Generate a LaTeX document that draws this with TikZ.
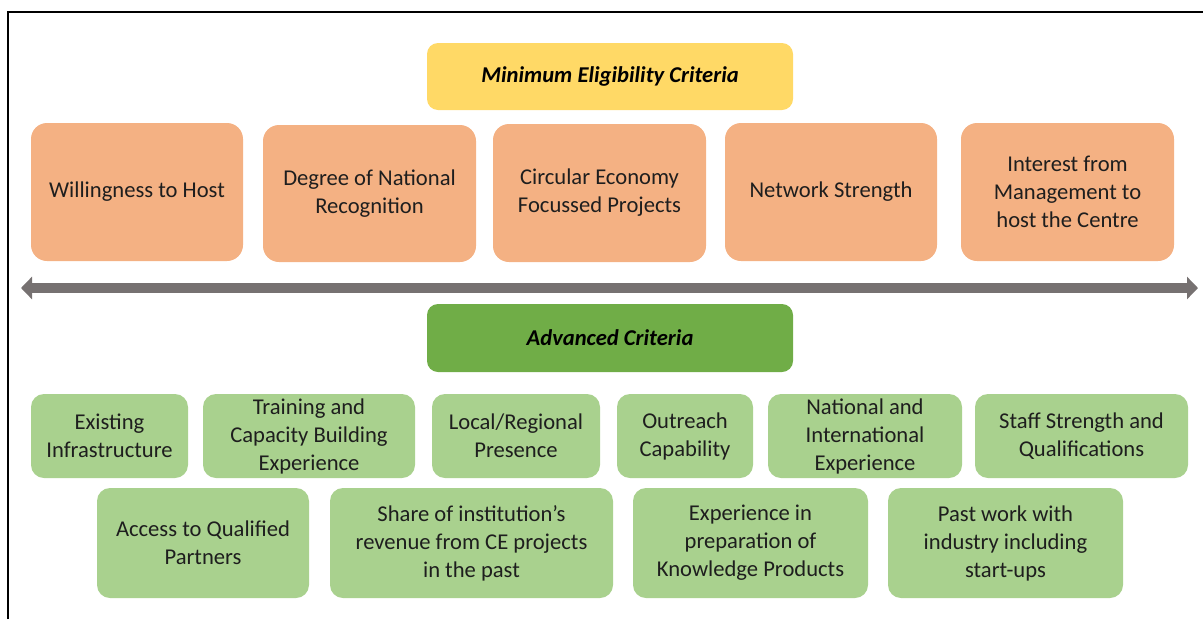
\documentclass[tikz,border=0pt]{standalone}
\usepackage{fontspec}
\setmainfont{Carlito}
\usetikzlibrary{arrows.meta}
\definecolor{orangebox}{HTML}{F4B183}
\definecolor{yellowbox}{HTML}{FFD966}
\definecolor{greenhead}{HTML}{70AD47}
\definecolor{greenbox}{HTML}{A9D18E}
\definecolor{arrowgray}{HTML}{767171}
\definecolor{txt}{HTML}{1E1E1E}
\tikzset{
  base/.style={rectangle, align=center, inner sep=0pt, text=txt,
    font=\fontsize{22.6}{28}\selectfont},
  obox/.style={base, fill=orangebox, rounded corners=16pt},
  gbox/.style={base, fill=greenbox, rounded corners=13pt},
  headbox/.style={base, rounded corners=11pt, text=black,
    font=\fontsize{22.6}{28}\selectfont\bfseries\itshape},
  bigarrow/.style={draw=arrowgray, line width=10pt,
    {Triangle[width=22pt,length=11pt]}-{Triangle[width=22pt,length=11pt]}},
  frame/.style={draw=black, line width=2pt}
}
\begin{document}
\begin{tikzpicture}[x=1pt,y=-1pt]
\useasboundingbox (0,0) rectangle (1203,619);
\draw[frame] (8,619) -- (8,12) -- (1203,12);
% header
\node[headbox, fill=yellowbox, minimum width=366pt, minimum height=67pt] (mec) at (610,76.5) {Minimum Eligibility Criteria};
% orange row
\node[obox, minimum width=212pt, minimum height=138pt] (o1) at (137,192) {Willingness to Host};
\node[obox, minimum width=213pt, minimum height=137pt] (o2) at (369.5,193.5) {Degree of National\\Recognition};
\node[obox, minimum width=213pt, minimum height=138pt] (o3) at (599.5,193) {Circular Economy\\Focussed Projects};
\node[obox, minimum width=212pt, minimum height=138pt] (o4) at (831,192) {Network Strength};
\node[obox, minimum width=213pt, minimum height=138pt] (o5) at (1067.5,192) {Interest from\\Management to\\host the Centre};
% arrow
\coordinate (al) at (21,288);
\coordinate (ar) at (1198,288);
\draw[bigarrow] (al) -- (ar);
% advanced header
\node[headbox, fill=greenhead, minimum width=366pt, minimum height=68pt] (adv) at (610,338) {Advanced Criteria};
% green row 1
\node[gbox, minimum width=157pt, minimum height=84pt] (g1) at (109.5,436) {Existing\\Infrastructure};
\node[gbox, minimum width=212pt, minimum height=84pt] (g2) at (309,436) {Training and\\Capacity Building\\Experience};
\node[gbox, minimum width=168pt, minimum height=84pt] (g3) at (516,436) {Local/Regional\\Presence};
\node[gbox, minimum width=136pt, minimum height=84pt] (g4) at (685,436) {Outreach\\Capability};
\node[gbox, minimum width=194pt, minimum height=84pt] (g5) at (865,436) {National and\\International\\Experience};
\node[gbox, minimum width=213pt, minimum height=84pt] (g6) at (1081.5,436) {Staff Strength and\\Qualifications};
% green row 2
\node[gbox, minimum width=212pt, minimum height=110pt] (h1) at (203,543) {Access to Qualified\\Partners};
\node[gbox, minimum width=283pt, minimum height=110pt] (h2) at (471.5,543) {Share of institution’s\\revenue from CE projects\\in the past};
\node[gbox, minimum width=235pt, minimum height=110pt] (h3) at (750.5,543) {Experience in\\preparation of\\Knowledge Products};
\node[gbox, minimum width=235pt, minimum height=110pt] (h4) at (1005.5,543) {Past work with\\industry including\\start-ups};
\end{tikzpicture}
\end{document}
